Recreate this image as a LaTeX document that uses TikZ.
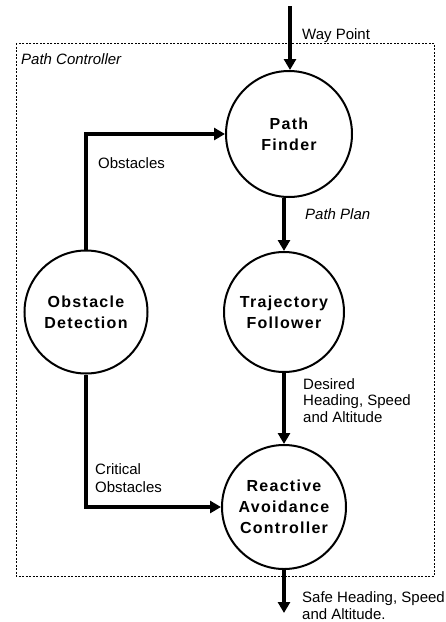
\documentclass[tikz,border=0pt]{standalone}
\usepackage{fontspec}
\setmainfont{Liberation Sans}
\newfontfamily\boldspaced[LetterSpace=8]{Liberation Sans Bold}
\usetikzlibrary{arrows.meta,calc}
\begin{document}
\begin{tikzpicture}[x=1pt,y=-1pt,
  proc/.style={circle,draw=black,line width=2pt,inner sep=0pt,align=center,
    font=\boldspaced\fontsize{16}{21}\selectfont},
  arr/.style={line width=4pt,-{Triangle[length=11pt,width=12pt]}},
  lbl/.style={anchor=north west,inner sep=0pt,align=left,
    font=\fontsize{15}{17.5}\selectfont},
  ilbl/.style={lbl,font=\itshape\fontsize{15}{17.5}\selectfont},
  frame/.style={draw=black,line width=1pt,dash pattern=on 2pt off 1.5pt}]
\useasboundingbox (0,0) rectangle (446,622);
% frame
\draw[frame] (16,43) rectangle (434,576);
\node[ilbl] (pc) at (21,53) {Path Controller};
% processes
\node[proc,minimum size=126pt] (pf) at (289,134) {Path\\Finder};
\node[proc,minimum size=120pt] (tf) at (284,312) {Trajectory\\Follower};
\node[proc,minimum size=123pt] (od) at (86,312) {Obstacle\\Detection};
\node[proc,minimum size=124pt] (rac) at (284,507) {Reactive\\Avoidance\\Controller};
% free ends
\coordinate (wp) at (290,6);
\coordinate (out) at (284,613);
% connectors
\draw[arr] (wp) -- (wp |- pf.north);
\draw[arr] (pf.south -| tf.north) -- (tf.north);
\draw[arr] (tf.south) -- (rac.north);
\draw[arr] (od.north) |- (pf.west);
\draw[arr] (od.south) |- (rac.west);
\draw[arr] (rac.south) -- (out);
% labels
\node[lbl] (lwp) at (302,28) {Way Point};
\node[lbl] (lobs) at (98,157) {Obstacles};
\node[ilbl] (lpp) at (305,208) {Path Plan};
\node[lbl,font=\fontsize{15}{16.7}\selectfont] (ldes) at (303,378) {Desired\\Heading, Speed\\and Altitude};
\node[lbl,font=\fontsize{15}{18}\selectfont] (lcrit) at (95,463) {Critical\\Obstacles};
\node[lbl,font=\fontsize{15}{17}\selectfont] (lsafe) at (302,591) {Safe Heading, Speed\\and Altitude.};
\end{tikzpicture}
\end{document}
